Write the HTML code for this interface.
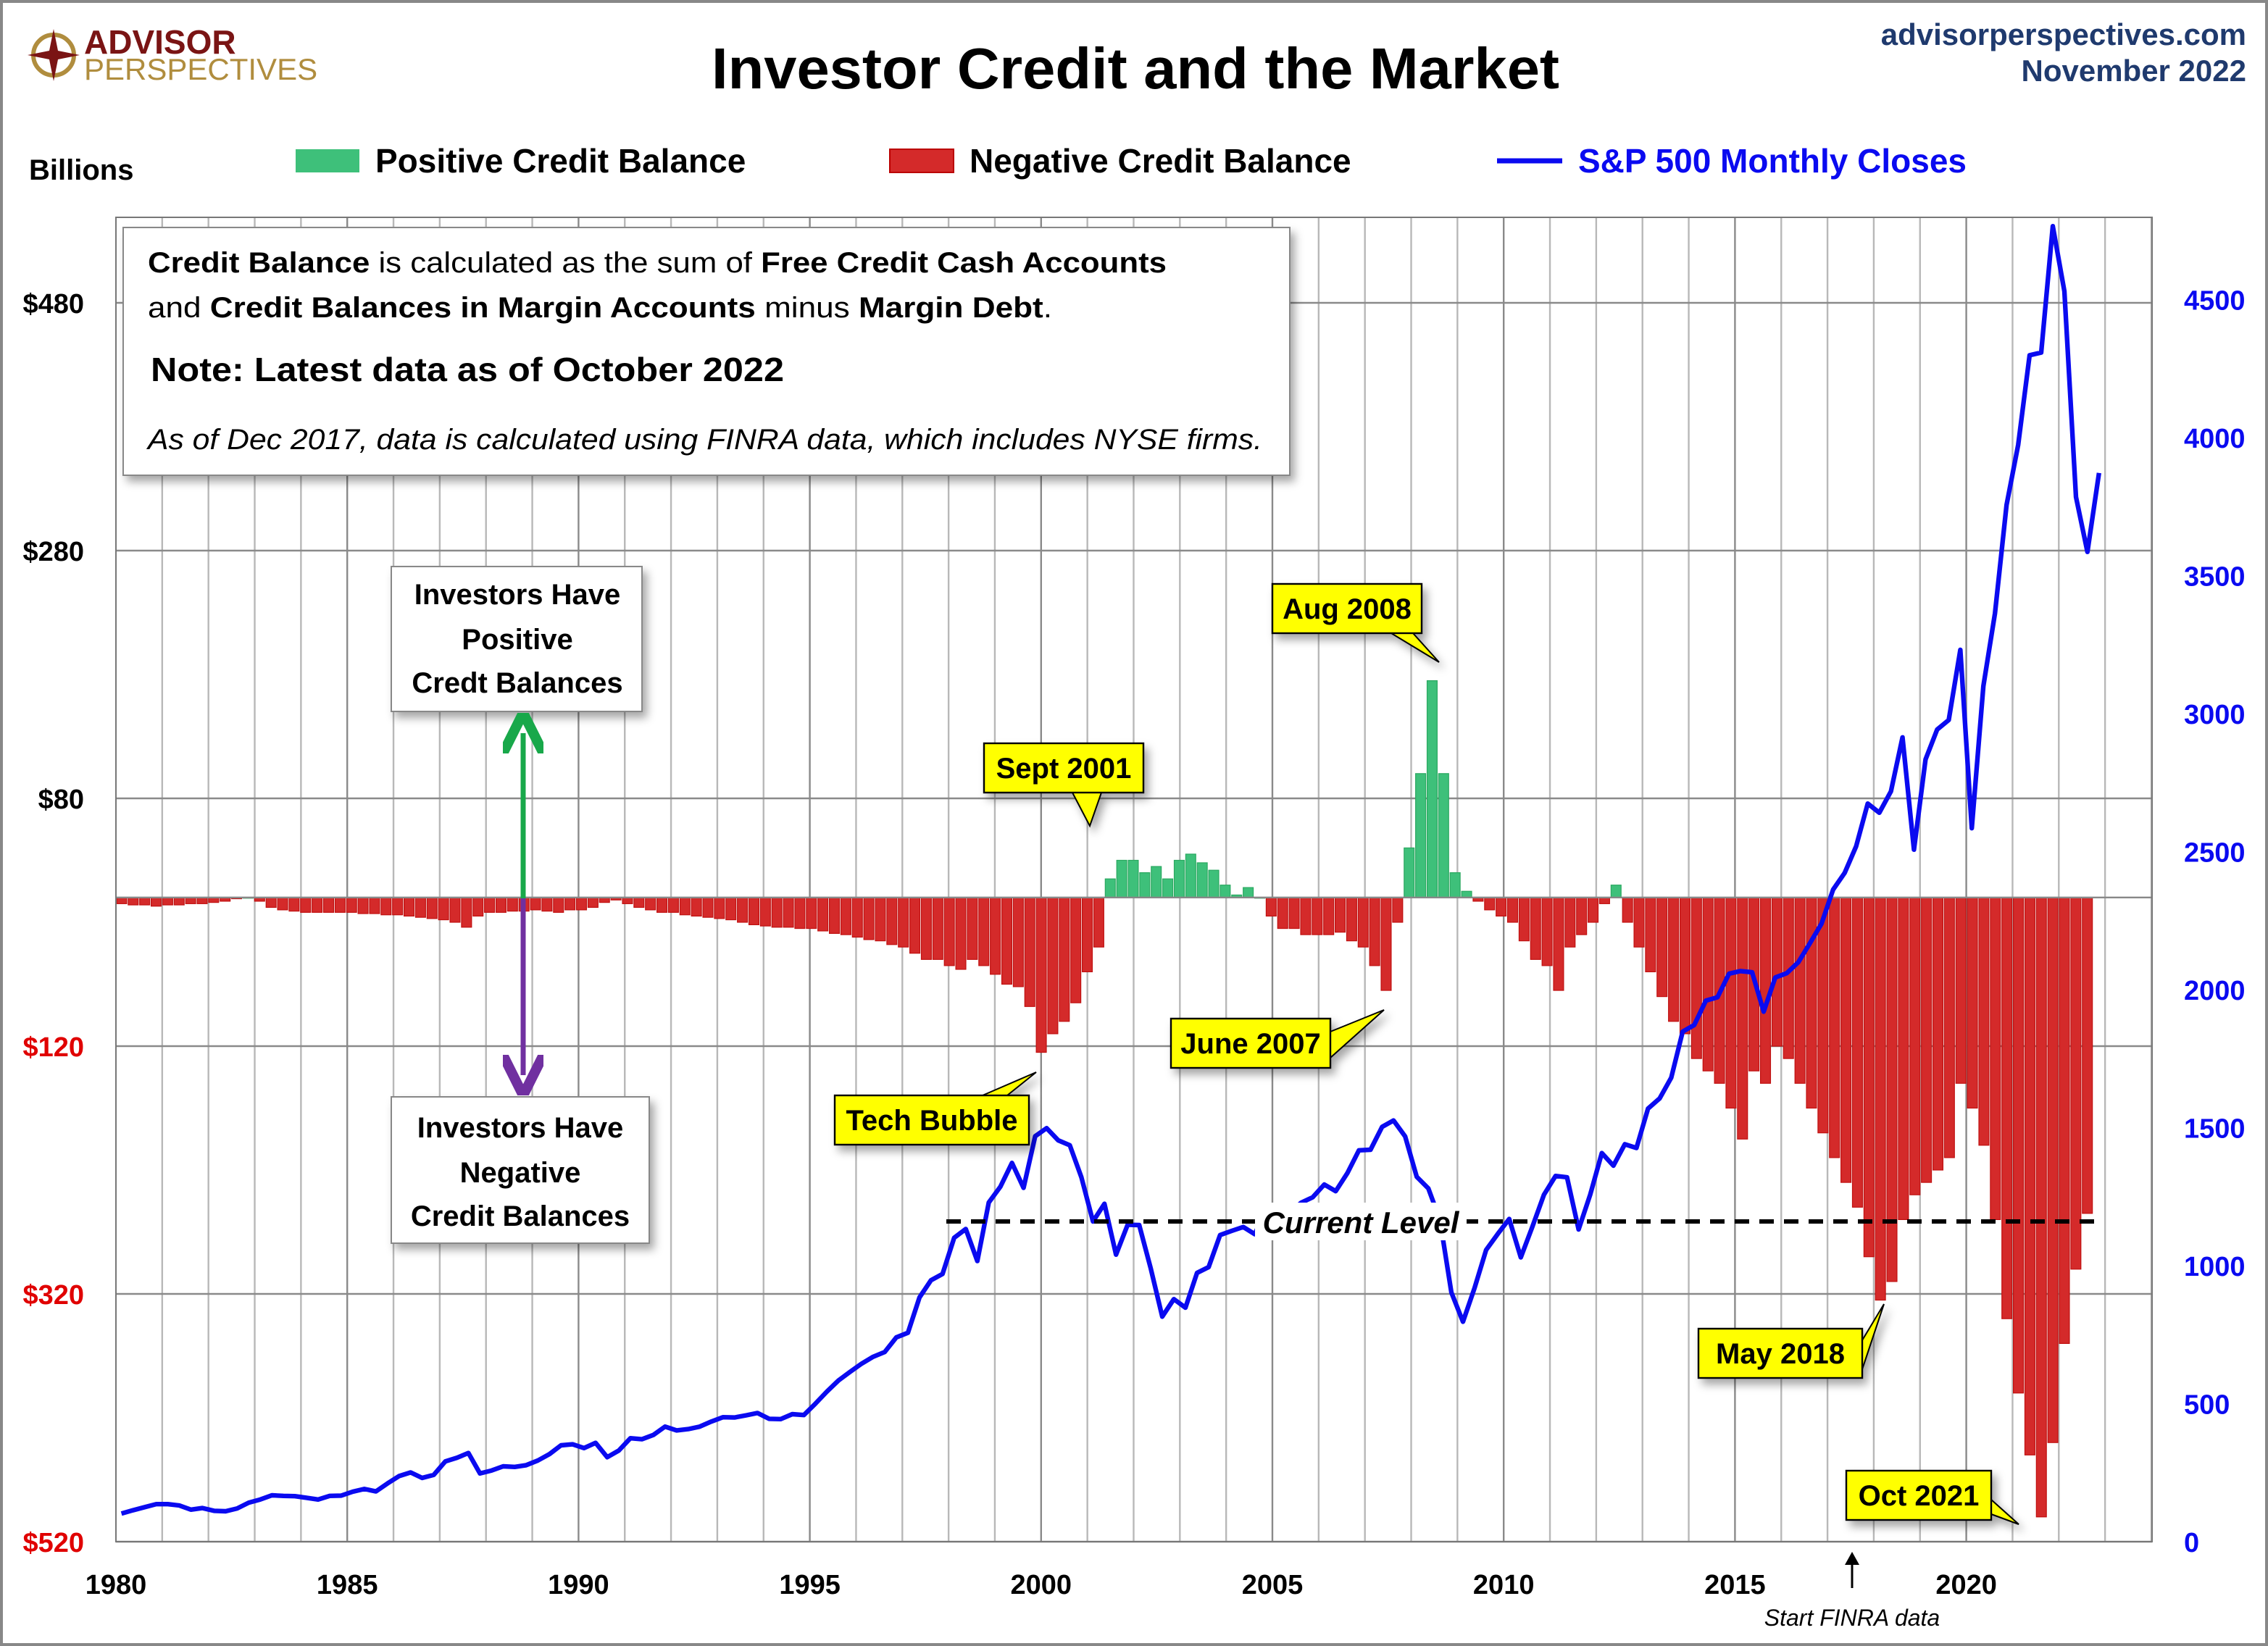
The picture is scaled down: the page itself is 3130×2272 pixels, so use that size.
<!DOCTYPE html>
<html><head><meta charset="utf-8"><style>
html,body{margin:0;padding:0;background:#fff}
svg{display:block}
text{font-family:"Liberation Sans",sans-serif}
</style></head><body>
<svg id="chart" width="3130" height="2272" viewBox="0 0 1565 1136" xmlns="http://www.w3.org/2000/svg">
<defs>
<filter id="sh" x="-10%" y="-10%" width="130%" height="140%"><feDropShadow dx="3" dy="4" stdDeviation="3" flood-color="#000" flood-opacity="0.35"/></filter>
<marker id="ag" markerWidth="8" markerHeight="8" refX="4" refY="4" orient="auto"><path d="M0,0 L8,4 L0,8" fill="none" stroke="#18a84a" stroke-width="2"/></marker>
<marker id="ap" markerWidth="8" markerHeight="8" refX="4" refY="4" orient="auto"><path d="M0,0 L8,4 L0,8" fill="none" stroke="#7030a0" stroke-width="2"/></marker>
</defs>
<rect x="1" y="1" width="1563" height="1134" fill="#fff" stroke="#888" stroke-width="2"/>
<g id="grid"></g>
<g id="bars"></g>
<line x1="80" y1="619.4" x2="1485" y2="619.4" stroke="#888" stroke-width="1.2"/>
<path id="spx" fill="none" stroke="#0a0af0" stroke-width="3.2" stroke-linejoin="round"/>
<line x1="653" y1="843" x2="1447" y2="843" stroke="#000" stroke-width="3" stroke-dasharray="10,7"/>
<rect x="866" y="830" width="146" height="26" fill="#fff"/>
<text x="939" y="851" text-anchor="middle" font-size="21" font-weight="bold" font-style="italic">Current Level</text>
<rect x="80" y="150" width="1405" height="914" fill="none" stroke="#777" stroke-width="1"/>
<g id="axes"></g>

<!-- header -->
<g>
<circle cx="37" cy="38" r="14" fill="none" stroke="#b08d3e" stroke-width="3"/>
<path d="M37,20 L40,35 L55,38 L40,41 L37,56 L34,41 L19,38 L34,35Z" fill="#7a1414"/>
<text x="58" y="37" font-size="23" font-weight="bold" fill="#7a1414">ADVISOR</text>
<text x="58" y="55" font-size="21" fill="#b08d3e">PERSPECTIVES</text>
</g>
<text x="491" y="61" font-size="40" font-weight="bold" textLength="585" lengthAdjust="spacingAndGlyphs">Investor Credit and the Market</text>
<text x="1550" y="31" text-anchor="end" font-size="21" font-weight="bold" fill="#1f3a6e">advisorperspectives.com</text>
<text x="1550" y="56" text-anchor="end" font-size="21" font-weight="bold" fill="#1f3a6e">November 2022</text>
<text x="20" y="124" font-size="20" font-weight="bold">Billions</text>
<g>
<rect x="204" y="103" width="44" height="16" fill="#3ec07a"/>
<text x="259" y="119" font-size="23" font-weight="bold">Positive Credit Balance</text>
<rect x="614" y="103" width="44" height="16" fill="#d42a2a" stroke="#b00"/>
<text x="669" y="119" font-size="23" font-weight="bold">Negative Credit Balance</text>
<line x1="1033" y1="111" x2="1078" y2="111" stroke="#0a0af0" stroke-width="3.5"/>
<text x="1089" y="119" font-size="23" font-weight="bold" fill="#0a0af0">S&amp;P 500 Monthly Closes</text>
</g>

<!-- info box -->
<g>
<rect x="85" y="157" width="805" height="171" fill="#fff" stroke="#888" filter="url(#sh)"/>
<text x="102" y="188" font-size="20" textLength="703" lengthAdjust="spacingAndGlyphs"><tspan font-weight="bold">Credit Balance</tspan> is calculated as the sum of <tspan font-weight="bold">Free Credit Cash Accounts</tspan></text>
<text x="102" y="219" font-size="20" textLength="624" lengthAdjust="spacingAndGlyphs">and <tspan font-weight="bold">Credit Balances in Margin Accounts</tspan> minus <tspan font-weight="bold">Margin Debt</tspan>.</text>
<text x="104" y="263" font-size="23" font-weight="bold" textLength="437" lengthAdjust="spacingAndGlyphs">Note: Latest data as of October 2022</text>
<text x="102" y="310" font-size="20" font-style="italic" textLength="769" lengthAdjust="spacingAndGlyphs">As of Dec 2017, data is calculated using FINRA data, which includes NYSE firms.</text>
</g>

<!-- explanation boxes -->
<g>
<rect x="270" y="391" width="173" height="100" fill="#fff" stroke="#888" filter="url(#sh)"/>
<text x="357" y="417" text-anchor="middle" font-size="20" font-weight="bold">Investors Have</text>
<text x="357" y="448" text-anchor="middle" font-size="20" font-weight="bold">Positive</text>
<text x="357" y="478" text-anchor="middle" font-size="20" font-weight="bold">Credt Balances</text>
</g>
<g>
<rect x="270" y="757" width="178" height="101" fill="#fff" stroke="#888" filter="url(#sh)"/>
<text x="359" y="785" text-anchor="middle" font-size="20" font-weight="bold">Investors Have</text>
<text x="359" y="816" text-anchor="middle" font-size="20" font-weight="bold">Negative</text>
<text x="359" y="846" text-anchor="middle" font-size="20" font-weight="bold">Credit Balances</text>
</g>
<line x1="361" y1="620" x2="361" y2="506" stroke="#18a84a" stroke-width="3.5" marker-end="url(#ag)"/>
<line x1="361" y1="620" x2="361" y2="742" stroke="#7030a0" stroke-width="3.5" marker-end="url(#ap)"/>

<g id="callouts"></g>

<line x1="1278" y1="1096" x2="1278" y2="1074" stroke="#000" stroke-width="1.5"/>
<path d="M1273,1080 L1278,1071 L1283,1080Z" fill="#000"/>
<text x="1278" y="1122" text-anchor="middle" font-size="16" font-style="italic">Start FINRA data</text>
</svg>
<script>
// quarterly data 1980Q1 .. 2022Q4 (last = Oct 2022)
const years = [1980,1985,1990,1995,2000,2005,2010,2015,2020];
const leftTicks = [480,280,80,-120,-320,-520];
const leftTickLabels = ["$480","$280","$80","$120","$320","$520"];
const rightTicks = [0,500,1000,1500,2000,2500,3000,3500,4000,4500];
const credit = [
-5,-6,-6,-7, -6,-6,-5,-5, -4,-3,-1,0, -3,-8,-10,-11, -12,-12,-12,-12,
-12,-13,-13,-14, -14,-15,-16,-17, -18,-20,-24,-15, -12,-12,-11,-11, -10,-11,-12,-10,
-10,-8,-4,-2, -5,-8,-10,-12, -12,-14,-15,-16, -17,-18,-20,-22, -23,-24,-24,-25,
-25,-27,-29,-30, -32,-34,-35,-38, -40,-45,-50,-50, -55,-58,-50,-55, -62,-70,-72,-88,
-125,-110,-100,-85, -60,-40,15,30, 30,20,25,15, 30,35,28,22, 10,2,8,0,
-15,-25,-25,-30, -30,-30,-28,-35, -40,-55,-75,-20, 40,100,175,100, 20,5,-3,-10,
-15,-20,-35,-50, -55,-75,-40,-30, -20,-5,10,-20, -40,-60,-80,-100, -110,-130,-140,-150,
-170,-195,-140,-150, -120,-130,-150,-170, -190,-210,-230,-250, -290,-325,-310,-260, -240,-230,-220,-210,
-150,-170,-200,-260, -340,-400,-450,-500, -440,-360,-300,-255];
const spx = [
102,114,125,136, 136,131,116,122, 112,110,120,141, 153,168,166,165, 159,153,166,167,
181,191,182,211, 238,251,231,242, 291,304,321,247, 258,273,271,277, 294,317,349,353,
339,358,306,330, 375,371,387,417, 403,408,417,435, 451,450,458,466, 445,444,462,459,
500,544,584,615, 645,670,687,740, 757,885,947,970, 1101,1133,1017,1229, 1286,1372,1282,1469,
1498,1454,1436,1320, 1160,1224,1040,1148, 1147,989,815,879, 848,974,995,1111, 1126,1140,1114,1211,
1180,1191,1228,1248, 1294,1270,1335,1418, 1420,1503,1526,1468, 1322,1280,1166,903, 797,919,1057,1115,
1169,1030,1141,1257, 1325,1320,1131,1257, 1408,1362,1440,1426, 1569,1606,1681,1848, 1872,1960,1972,2058,
2067,2063,1920,2044, 2060,2099,2168,2239, 2362,2423,2519,2674, 2641,2718,2914,2507, 2834,2942,2977,3231,
2585,3100,3363,3756, 3973,4298,4308,4766, 4530,3785,3586,3872];

const NS="http://www.w3.org/2000/svg";
const X0=80, PXY=31.92, Y0=619.4, PXB=0.855, YR0=1064, PXR=95.25/500;
function xs(t){return X0+(t-1980)*PXY;}
function yl(v){return Y0-v*PXB;}
function yr(v){return YR0-v*PXR;}
function mk(tag,attrs,parent){const e=document.createElementNS(NS,tag);for(const k in attrs)e.setAttribute(k,attrs[k]);parent.appendChild(e);return e;}
const grid=document.getElementById('grid'), axes=document.getElementById('axes');
for(let y=1981;y<=2024;y++){
  const g=mk('line',{x1:xs(y),x2:xs(y),y1:150,y2:1064,stroke:(y%5==0)?'#8a8a8a':'#b8b8b8','stroke-width':1.2},grid);
  
  
}
leftTicks.forEach((v,i)=>{
  const l=mk('line',{x1:80,x2:1485,y1:yl(v),y2:yl(v),stroke:'#8a8a8a','stroke-width':1.2},grid);
  
  
  const t=mk('text',{x:58,y:yl(v)+7,'text-anchor':'end','font-size':19,'font-weight':'bold',fill:v<0?'#e00000':'#000'},axes);
  t.textContent=leftTickLabels[i];
  
  
});
rightTicks.forEach(v=>{
  const t=mk('text',{x:1507,y:yr(v)+7,'font-size':19,'font-weight':'bold',fill:'#0a0af0'},axes);
  t.textContent=v;
  
  
});
years.forEach(y=>{
  const t=mk('text',{x:xs(y),y:1100,'text-anchor':'middle','font-size':19,'font-weight':'bold'},axes);
  t.textContent=y;
  
  
});
const bars=document.getElementById('bars');
const step=0.2485;
const bw=step*PXY;
credit.forEach((v,i)=>{
  const t=1980+i*step;
  const y=yl(v), top=Math.min(y,Y0), h=Math.abs(Y0-y);
  const r=mk('rect',{x:xs(t)+0.5,y:top,width:bw-1,height:Math.max(h,0.5),fill:v>=0?'#3ec07a':'#d42a2a',stroke:v>=0?'#2aa860':'#c01010','stroke-width':0.6},bars);
  
  
});
let d='';
spx.forEach((v,i)=>{const t=1980+i*0.25+0.12;d+=(i?'L':'M')+xs(t).toFixed(1)+','+yr(v).toFixed(1);});
document.getElementById('spx').setAttribute('d',d);

const cal=document.getElementById('callouts');
const callouts=[
 ["Aug 2008",878,403,103,[[960,437],[993,457],[975,437]]],
 ["Sept 2001",679,513,110,[[740,547],[752,570],[760,547]]],
 ["June 2007",808,703,110,[[918,712],[955,697],[918,730]]],
 ["Tech Bubble",576,756,134,[[678,756],[715,740],[695,756]]],
 ["May 2018",1172,917,113,[[1285,925],[1300,900],[1285,945]]],
 ["Oct 2021",1274,1015,100,[[1374,1035],[1393,1052],[1374,1045]]]
];
callouts.forEach(c=>{
  const g=mk('g',{filter:'url(#sh)'},cal);
  
  
  mk('polygon',{points:c[4].map(p=>p.join(',')).join(' '),fill:'#ffff00',stroke:'#000','stroke-width':1},g);
  mk('rect',{x:c[1],y:c[2],width:c[3],height:34,fill:'#ffff00',stroke:'#000','stroke-width':1.2},g);
  const t=mk('text',{x:c[1]+c[3]/2,y:c[2]+24,'text-anchor':'middle','font-size':20,'font-weight':'bold'},g);
  t.textContent=c[0];
});
</script>
</body></html>
